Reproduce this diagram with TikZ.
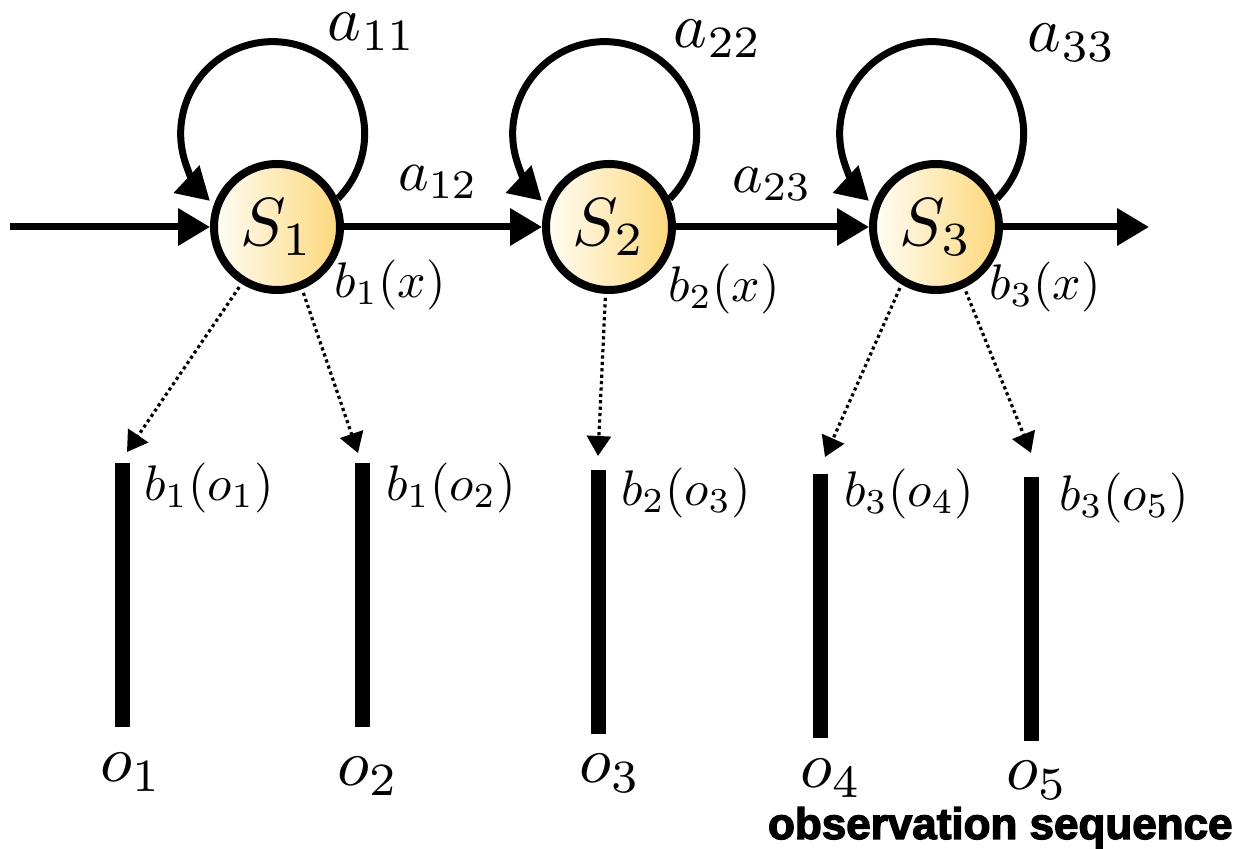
\documentclass[tikz,border=0pt]{standalone}
\usepackage{graphicx}
\usepackage{fontspec}
\newfontfamily\obsfont[FakeBold=3]{Liberation Sans Bold}
\usetikzlibrary{arrows.meta}
\definecolor{stL}{RGB}{255,253,246}
\definecolor{stR}{RGB}{252,216,122}
\newcommand\sclab[2]{\scalebox{#1}{$#2$}}
\begin{document}
\begin{tikzpicture}[x=0.5pt,y=-0.5pt,
  state/.style={circle, draw=black, line width=4pt, minimum size=63pt, inner sep=0pt,
    left color=stL, right color=stR},
  arr/.style={line width=3.5pt, -{Triangle[length=16pt,width=18pt]}},
  obsarr/.style={line width=1.6pt, dash pattern=on 1.6pt off 1.6pt, shorten <=2pt, -{Triangle[length=10pt,width=12pt]}},
  obsbar/.style={fill=black, draw=none, minimum width=7.5pt, minimum height=132pt, inner sep=0pt, anchor=north},
  lab/.style={inner sep=0pt}]
\useasboundingbox (0,0) rectangle (1243,849);

% states
\node[state] (S1) at (277,227) {\sclab{3.4}{S_1}};
\node[state] (S2) at (609,227) {\sclab{3.4}{S_2}};
\node[state] (S3) at (936,227) {\sclab{3.4}{S_3}};

\coordinate (in) at (10,227);
\coordinate (out) at (1149,227);

% transitions
\draw[arr] (in) -- (S1);
\draw[arr] (S1) -- (S2);
\draw[arr] (S2) -- (S3);
\draw[arr] (S3) -- (out);

% self loops
\draw[arr] (S1.25) arc[start angle=-45, end angle=227, radius=46pt];
\draw[arr] (S2.25) arc[start angle=-45, end angle=227, radius=46pt];
\draw[arr] (S3.25) arc[start angle=-45, end angle=227, radius=46pt];

% transition labels
\node[lab] (a11) at (372,32) {\sclab{3.2}{a_{11}}};
\node[lab] (a22) at (718,39) {\sclab{3.2}{a_{22}}};
\node[lab] (a33) at (1072,43) {\sclab{3.2}{a_{33}}};
\node[lab] (a12) at (438,182) {\sclab{2.9}{a_{12}}};
\node[lab] (a23) at (772,184) {\sclab{2.9}{a_{23}}};

% emission labels
\node[lab] (b1x) at (390,285) {\sclab{2.5}{b_1(x)}};
\node[lab] (b2x) at (724,289) {\sclab{2.5}{b_2(x)}};
\node[lab] (b3x) at (1045,287) {\sclab{2.5}{b_3(x)}};

% observation bars
\node[obsbar] (o1) at (122,463) {};
\node[obsbar] (o2) at (362,463) {};
\node[obsbar] (o3) at (598,470) {};
\node[obsbar] (o4) at (820,474) {};
\node[obsbar] (o5) at (1031,477) {};

% emission arrow ends
\coordinate (t1) at (127,452);
\coordinate (t2) at (358,453);
\coordinate (t3) at (598,456);
\coordinate (t4) at (825,457);
\coordinate (t5) at (1031,453);

\draw[obsarr] (S1.238) -- (t1);
\draw[obsarr] (S1.292) -- (t2);
\draw[obsarr] (S2.267) -- (t3);
\draw[obsarr] (S3.239) -- (t4);
\draw[obsarr] (S3.295) -- (t5);

% emission probabilities
\node[lab] (bo1) at (209,488) {\sclab{2.5}{b_1(o_1)}};
\node[lab] (bo2) at (451,488) {\sclab{2.5}{b_1(o_2)}};
\node[lab] (bo3) at (686,493) {\sclab{2.5}{b_2(o_3)}};
\node[lab] (bo4) at (909,494) {\sclab{2.5}{b_3(o_4)}};
\node[lab] (bo5) at (1124,498) {\sclab{2.5}{b_3(o_5)}};

% observation labels
\node[lab] (lo1) at (131,772) {\sclab{3.3}{o_1}};
\node[lab] (lo2) at (368,776) {\sclab{3.3}{o_2}};
\node[lab] (lo3) at (610,773) {\sclab{3.3}{o_3}};
\node[lab] (lo4) at (831,778) {\sclab{3.3}{o_4}};
\node[lab] (lo5) at (1037,780) {\sclab{3.3}{o_5}};

\node[anchor=base east, inner sep=0pt, font=\obsfont\fontsize{22}{26}\selectfont] (seq) at (1233,839) {observation sequence};
\end{tikzpicture}
\end{document}
